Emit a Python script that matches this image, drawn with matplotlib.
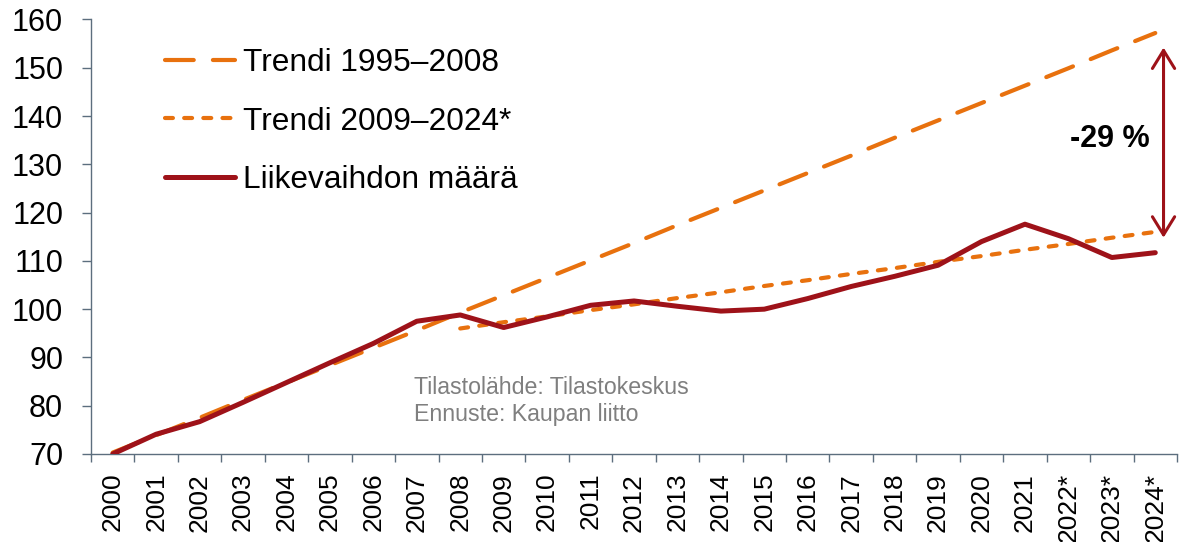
import matplotlib
matplotlib.use("Agg")
import matplotlib.pyplot as plt
from matplotlib.ticker import FixedLocator

plt.rcParams['font.family'] = ['Liberation Sans', 'DejaVu Sans']

years = ["2000", "2001", "2002", "2003", "2004", "2005", "2006", "2007", "2008",
         "2009", "2010", "2011", "2012", "2013", "2014", "2015", "2016", "2017",
         "2018", "2019", "2020", "2021", "2022*", "2023*", "2024*"]
liikevaihto = [70.0, 74.1, 76.7, 80.7, 84.8, 88.9, 92.9, 97.5, 98.8,
               96.2, 98.4, 100.8, 101.7, 100.6, 99.6, 100.0, 102.2, 104.7,
               106.8, 109.1, 114.0, 117.6, 114.6, 110.7, 111.7]
trendi_1995_2008 = [70.3, 73.9, 77.5, 81.2, 84.8, 88.4, 92.0, 95.6, 99.3,
                    102.9, 106.5, 110.1, 113.7, 117.4, 121.0, 124.6, 128.2,
                    131.8, 135.5, 139.1, 142.7, 146.3, 149.9, 153.6, 157.2]
trendi_2009_2024_years = years[8:]
trendi_2009_2024 = [96.0, 97.3, 98.5, 99.8, 101.0, 102.3, 103.5, 104.8, 106.0,
                    107.3, 108.5, 109.8, 111.0, 112.3, 113.5, 114.8, 116.0]

RED = "#9E1219"
ORANGE = "#E8710E"
SPINE = "#5C6E7E"

fig = plt.figure(figsize=(11.82, 5.42), dpi=100)
ax = fig.add_axes([91 / 1182, 88 / 542, 1086 / 1182, 434.5 / 542])

x_all = list(range(len(years)))
x_t2 = list(range(8, 8 + len(trendi_2009_2024)))

ax.plot(x_all, trendi_1995_2008, color=ORANGE, lw=3.0, dashes=(6.9, 4.6),
        dash_capstyle='round', label="Trendi 1995\u20132008", zorder=2)
ax.plot(x_t2, trendi_2009_2024, color=ORANGE, lw=3.0, dashes=(1.9, 2.7),
        dash_capstyle='round', label="Trendi 2009\u20132024*", zorder=2)
ax.plot(x_all, liikevaihto, color=RED, lw=3.6, solid_capstyle='round',
        solid_joinstyle='round', label="Liikevaihdon m\u00e4\u00e4r\u00e4", zorder=3)

ax.set_xlim(-0.5, len(years) - 0.5)
ax.set_ylim(70, 160)
ax.set_yticks(range(70, 161, 10))

ax.set_xticks(x_all)
ax.set_xticklabels(years, rotation=90, fontsize=19, va='top')
ax.xaxis.set_minor_locator(FixedLocator([i - 0.5 for i in range(len(years) + 1)]))
ax.tick_params(axis='x', which='major', length=0, pad=13.5)
ax.tick_params(axis='x', which='minor', length=6, width=1, color=SPINE, direction='out')
ax.tick_params(axis='y', length=6.5, width=1, color=SPINE, direction='out',
               pad=13.5, labelsize=22)

for s in ['top', 'right']:
    ax.spines[s].set_visible(False)
for s in ['left', 'bottom']:
    ax.spines[s].set_color(SPINE)
    ax.spines[s].set_linewidth(1.0)

leg = ax.legend(loc='upper left', bbox_to_anchor=(165 / 1182, 1 - 48 / 542),
                bbox_transform=fig.transFigure, frameon=False, fontsize=22.8,
                handlelength=2.2, handletextpad=0.25, labelspacing=0.9,
                borderpad=0, borderaxespad=0)

# gap arrow
ax.annotate("", xy=(24.19, 114.8), xytext=(24.19, 154.2),
            arrowprops=dict(arrowstyle='<->,head_length=0.65,head_width=0.4',
                            color=RED, lw=2.2, shrinkA=0, shrinkB=0,
                            mutation_scale=20))
ax.text(23.88, 133.5, "-29 %", ha='right', va='baseline', fontsize=22,
        fontweight='bold', color='black')

ax.text(6.93, 82.5, "Tilastol\u00e4hde: Tilastokeskus", ha='left', va='baseline',
        fontsize=16.7, color='#7F7F7F')
ax.text(6.93, 76.9, "Ennuste: Kaupan liitto", ha='left', va='baseline',
        fontsize=16.7, color='#7F7F7F')

fig.savefig("out.png", dpi=100)
